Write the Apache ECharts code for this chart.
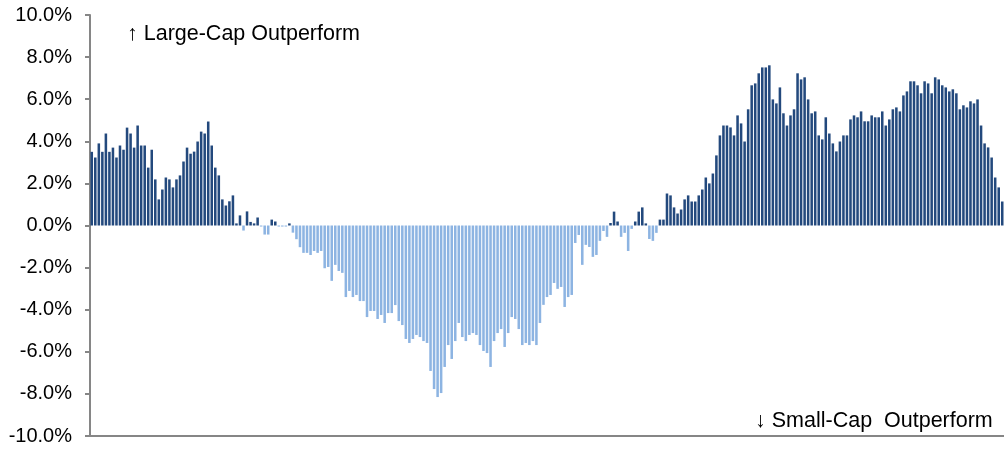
<!DOCTYPE html>
<html>
<head>
<meta charset="utf-8">
<script src="https://cdn.jsdelivr.net/npm/echarts@6/dist/echarts.min.js"></script>
<style>
html,body{margin:0;padding:0;background:#fff;}
#chart{width:1004px;height:449px;}
</style>
</head>
<body>
<div id="chart"></div>
<script>
// Relative performance: large-cap minus small-cap (%), one bar per period
const spreadValues = [
  3.50, 3.23, 3.90, 3.50, 4.37, 3.50, 3.70, 3.23, 3.80, 3.60,
  4.65, 4.37, 3.70, 4.75, 3.80, 3.80, 2.75, 3.60, 2.19, 1.24,
  1.71, 2.28, 2.19, 1.81, 2.19, 2.38, 3.04, 3.70, 3.41, 3.51,
  3.99, 4.46, 4.37, 4.94, 3.80, 2.75, 2.38, 1.24, 0.95, 1.15,
  1.43, 0.10, 0.48, -0.24, 0.67, 0.17, 0.10, 0.38, -0.05, -0.43,
  -0.43, 0.28, 0.19, -0.05, -0.05, -0.05, 0.10, -0.34, -0.65, -1.03,
  -1.30, -1.30, -1.40, -1.21, -1.30, -1.21, -2.03, -1.97, -2.63, -1.87,
  -2.16, -2.25, -3.40, -3.11, -3.40, -3.30, -3.59, -3.59, -4.35, -4.06,
  -4.06, -4.44, -4.25, -4.63, -4.16, -4.16, -3.78, -4.54, -4.73, -5.39,
  -5.58, -5.39, -5.20, -5.30, -5.49, -5.58, -6.91, -7.77, -8.15, -7.96,
  -6.72, -5.68, -6.34, -5.49, -4.63, -5.30, -5.49, -5.20, -5.11, -5.20,
  -5.68, -5.96, -6.06, -6.72, -5.49, -5.11, -4.92, -5.77, -5.11, -4.35,
  -4.44, -4.92, -5.68, -5.58, -5.68, -5.49, -5.68, -4.63, -3.77, -3.40,
  -3.30, -2.73, -3.01, -2.92, -3.87, -3.40, -3.30, -0.83, -0.45, -1.87,
  -0.92, -1.02, -1.49, -1.40, -0.73, -0.26, -0.54, 0.12, 0.66, 0.19,
  -0.54, -0.35, -1.21, -0.16, 0.19, 0.66, 0.86, 0.10, -0.64, -0.73,
  -0.35, 0.28, 0.28, 1.52, 1.43, 0.86, 0.57, 0.76, 1.24, 1.43,
  1.14, 1.14, 1.43, 1.71, 2.28, 2.00, 2.47, 3.33, 4.28, 4.75,
  4.75, 4.66, 4.28, 5.23, 4.85, 3.99, 5.52, 6.66, 6.75, 7.23,
  7.51, 7.51, 7.61, 5.99, 5.80, 6.56, 5.33, 4.75, 5.23, 5.52,
  7.23, 6.94, 7.04, 5.99, 5.33, 5.42, 4.28, 4.09, 5.14, 4.37,
  3.90, 3.52, 3.99, 4.28, 4.28, 5.04, 5.23, 5.14, 5.42, 4.95,
  4.95, 5.23, 5.14, 5.14, 5.42, 4.75, 5.04, 5.52, 5.61, 5.42,
  6.18, 6.37, 6.85, 6.85, 6.66, 6.28, 6.85, 6.75, 6.28, 7.04,
  6.94, 6.66, 6.56, 6.37, 6.47, 6.28, 5.52, 5.71, 5.61, 5.90,
  5.80, 5.99, 4.75, 3.90, 3.71, 3.23, 2.28, 1.81, 1.14
];
const periods = spreadValues.map((_, i) => String(i + 1));
const yTicks = { min: -10, max: 10, interval: 2 };
const annotations = ['\u2191 Large-Cap Outperform', '\u2193 Small-Cap  Outperform'];

const POS = '#23497D';
const NEG = '#8DB4E2';
const AXIS = '#868686';
const FONT = '"Liberation Sans", Arial, sans-serif';

const chart = echarts.init(document.getElementById('chart'), null, { renderer: 'canvas' });
chart.setOption({
  animation: false,
  backgroundColor: '#ffffff',
  grid: { left: 90, right: 0, top: 15, bottom: 13, containLabel: false },
  xAxis: {
    type: 'category',
    data: periods,
    axisLine: { onZero: false, lineStyle: { color: AXIS, width: 2 } },
    axisTick: { show: false },
    axisLabel: { show: false },
    splitLine: { show: false }
  },
  yAxis: {
    type: 'value',
    min: yTicks.min,
    max: yTicks.max,
    interval: yTicks.interval,
    axisLine: { show: true, lineStyle: { color: AXIS, width: 2 } },
    axisTick: { show: true, inside: false, length: 5, lineStyle: { color: AXIS, width: 2 } },
    splitLine: { show: false },
    axisLabel: {
      margin: 18,
      color: '#000',
      fontFamily: FONT,
      fontSize: 20,
      formatter: v => v.toFixed(1) + '%'
    }
  },
  series: [{
    type: 'bar',
    data: spreadValues,
    barCategoryGap: '28%',
    itemStyle: { color: p => (p.value >= 0 ? POS : NEG) }
  }],
  graphic: [
    { type: 'text', left: 127, top: 23, style: { text: annotations[0], font: '21.5px ' + FONT, fill: '#000' } },
    { type: 'text', left: 755, top: 410, style: { text: annotations[1], font: '21.5px ' + FONT, fill: '#000' } }
  ]
});
</script>
</body>
</html>
